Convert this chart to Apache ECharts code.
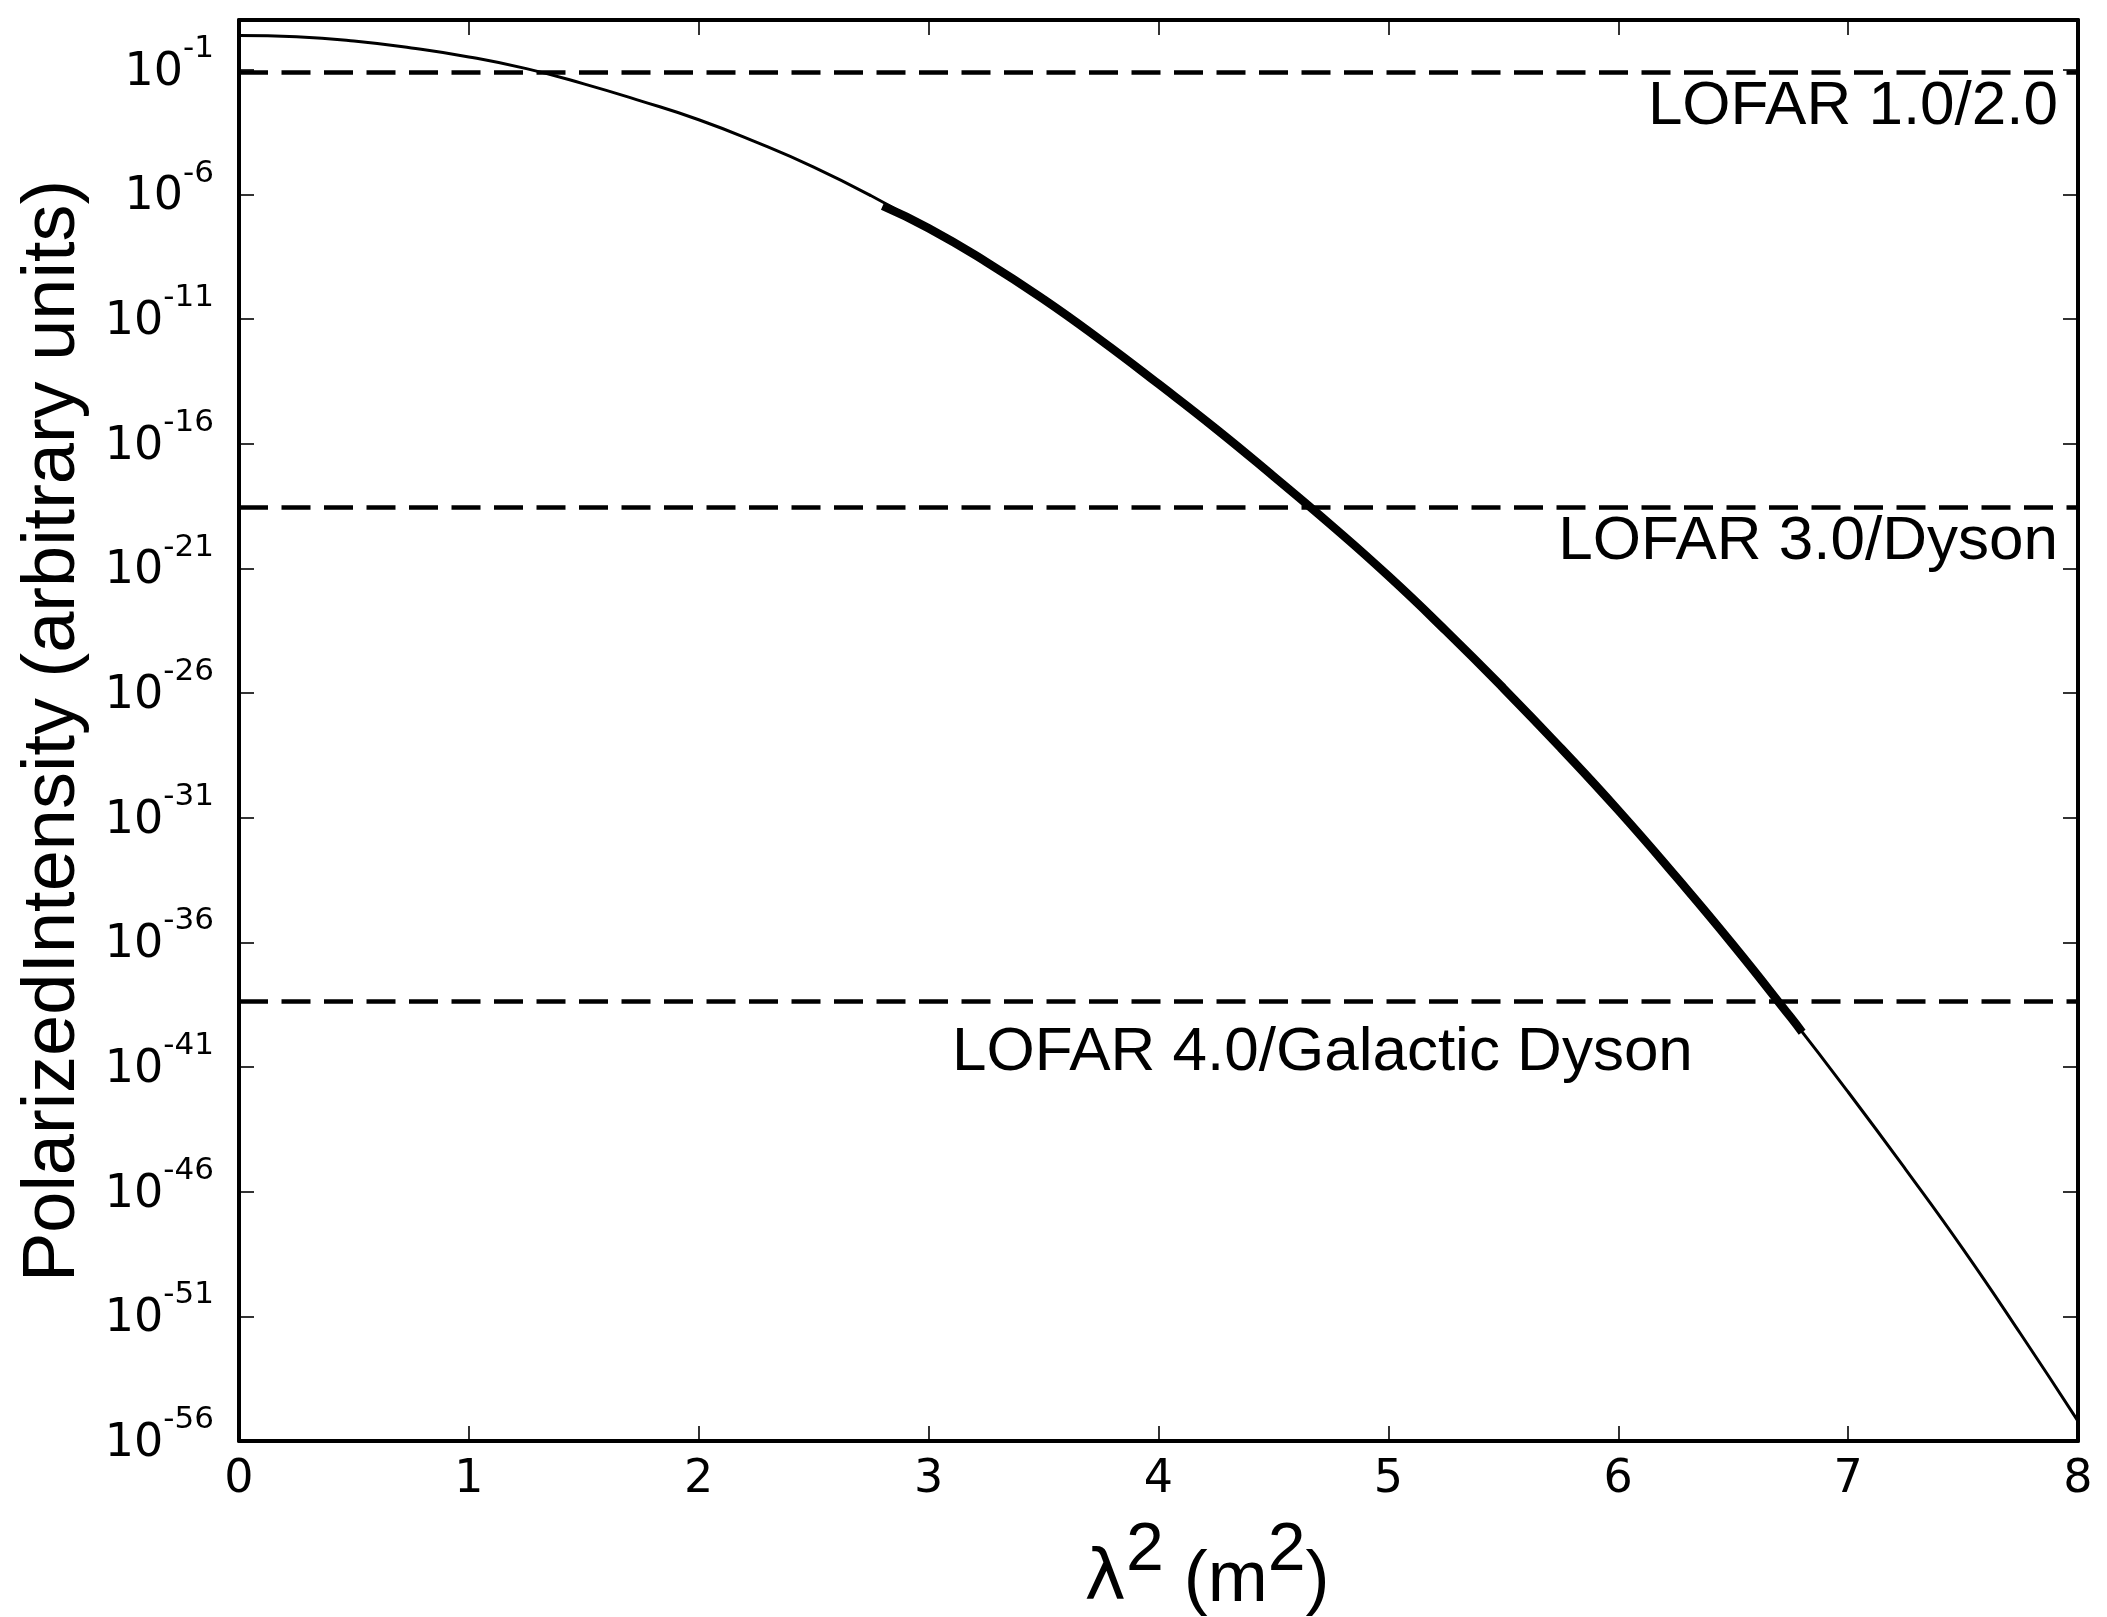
<!DOCTYPE html>
<html>
<head>
<meta charset="utf-8">
<script src="https://cdn.jsdelivr.net/npm/echarts@6/dist/echarts.min.js"></script>
<style>
html,body{margin:0;padding:0;background:#fff;}
#c{width:2107px;height:1617px;}
#err{position:absolute;left:300px;top:300px;font:30px sans-serif;color:red;white-space:pre-wrap;width:1500px;}
</style>
</head>
<body>
<div id="c"></div>
<div id="err"></div>
<script>
window.onerror = function (m, s, l, c, e) { document.getElementById('err').textContent += 'ERR: ' + m + ' @' + l + ':' + c + '\n'; };
// ---- data ----
const lambdaSq = [0, 0.25, 0.5, 0.75, 1, 1.25, 1.5, 1.75, 2, 2.25, 2.5, 2.75, 3,
                  3.25, 3.5, 3.75, 4, 4.25, 4.5, 4.75, 5, 5.25, 5.5, 5.75, 6,
                  6.25, 6.5, 6.75, 7, 7.25, 7.5, 7.75, 8];
const intensity = [2.4, 2.14, 1.45, 0.76, 0.331, 0.112, 0.0275, 5.6e-3, 1.0e-3, 1.26e-4, 1.26e-5, 8.9e-7, 4.47e-8,
                   2.0e-9, 6.3e-11, 1.41e-12, 2.51e-14, 3.98e-16, 5.0e-18, 5.6e-20, 5.0e-22, 3.16e-24, 1.58e-26, 6.3e-29, 2.0e-31,
                   4.47e-34, 7.9e-37, 1.0e-39, 1.0e-42, 7.9e-46, 5.0e-49, 2.0e-52, 6.3e-56];
const boldLambdaSq = [2.8, 3, 3.25, 3.5, 3.75, 4, 4.25, 4.5, 4.75, 5, 5.25, 5.5, 5.75, 6, 6.25, 6.5, 6.75, 6.8];
const boldIntensity = [3.5e-7, 4.47e-8, 2.0e-9, 6.3e-11, 1.41e-12, 2.51e-14, 3.98e-16, 5.0e-18, 5.6e-20, 5.0e-22,
                       3.16e-24, 1.58e-26, 6.3e-29, 2.0e-31, 4.47e-34, 7.9e-37, 1.0e-39, 2.5e-40];
const thresholdNames = ['LOFAR 1.0/2.0', 'LOFAR 3.0/Dyson', 'LOFAR 4.0/Galactic Dyson'];
const thresholds = [0.078, 2.8e-19, 4.3e-39];
const xTicks = [0, 1, 2, 3, 4, 5, 6, 7, 8];
const yTickExponents = [-1, -6, -11, -16, -21, -26, -31, -36, -41, -46, -51, -56];

// ---- chart ----
const chart = echarts.init(document.getElementById('c'), null, {renderer: 'canvas'});
const BLACK = '#000';
const TICK_FONT = 'DejaVu Sans';
const TEXT_FONT = 'Liberation Sans';
const yTickValues = yTickExponents.map(e => Number('1e' + e));

function frameAxis(extra) {
  return Object.assign({
    axisLine: {show: true, onZero: false, lineStyle: {color: BLACK, width: 4}},
    splitLine: {show: false},
    minorTick: {show: false}
  }, extra);
}
const tickStyle = {show: true, inside: true, length: 15, lineStyle: {color: BLACK, width: 1.6}};

const xBase = {type: 'value', min: 0, max: 8, interval: 1, axisTick: tickStyle};
const yBase = {type: 'log', logBase: 10, min: 1e-56, max: 1e1,
               axisTick: Object.assign({customValues: yTickValues}, tickStyle)};

const series = [
  {
    type: 'line', name: 'curve', z: 2,
    data: lambdaSq.map((x, i) => [x, intensity[i]]),
    smooth: 0.5, symbol: 'none',
    lineStyle: {color: BLACK, width: 3}
  },
  {
    type: 'line', name: 'bold', z: 3,
    data: boldLambdaSq.map((x, i) => [x, boldIntensity[i]]),
    smooth: 0.5, symbol: 'none',
    lineStyle: {color: BLACK, width: 8.5, cap: 'butt'}
  }
];
thresholds.forEach((v, i) => {
  series.push({
    type: 'line', name: thresholdNames[i], z: 2,
    data: [[xTicks[0], v], [xTicks[xTicks.length - 1], v]],
    symbol: 'none',
    lineStyle: {color: BLACK, width: 4.5, type: [29, 13.5], cap: 'butt'}
  });
});

// label placements (layout only)
const labelPos = [
  {x: 2058, y: 107, align: 'right'},
  {x: 2058, y: 542, align: 'right'},
  {x: 952, y: 1053, align: 'left'}
];

const graphics = thresholdNames.map((t, i) => ({
  type: 'text', silent: true, z: 10,
  style: {
    x: labelPos[i].x, y: labelPos[i].y, text: t,
    fontFamily: TEXT_FONT, fontSize: 62, fill: BLACK,
    align: labelPos[i].align, verticalAlign: 'middle'
  }
}));
graphics.push({
  type: 'text', silent: true, z: 10, rotation: Math.PI / 2, x: 54, y: 731,
  style: {
    x: 0, y: 0, text: 'PolarizedIntensity (arbitrary units)',
    fontFamily: TEXT_FONT, fontSize: 74, fill: BLACK,
    align: 'center', verticalAlign: 'middle'
  }
});
graphics.push({
  type: 'text', silent: true, z: 10,
  style: {
    x: 1207, y: 1581, text: '{l|λ}{s|2}{n| (m}{s|2}{n|)}',
    fill: BLACK, align: 'center', verticalAlign: 'middle',
    rich: {
      l: {fontFamily: TICK_FONT, fontSize: 70, lineHeight: 90, fill: BLACK},
      n: {fontFamily: TEXT_FONT, fontSize: 72, lineHeight: 90, fill: BLACK},
      s: {fontFamily: TEXT_FONT, fontSize: 68, lineHeight: 90, padding: [0, 0, 60, 0], fill: BLACK}
    }
  }
});

const option = {
  animation: false,
  backgroundColor: '#fff',
  grid: {left: 239, top: 20, width: 1839, height: 1421, containLabel: false},
  xAxis: [
    frameAxis(Object.assign({}, xBase, {
      position: 'bottom',
      axisLabel: {
        margin: 16, color: BLACK, fontFamily: TICK_FONT, fontSize: 46,
        formatter: v => (xTicks.indexOf(v) >= 0 ? String(v) : '')
      }
    })),
    frameAxis(Object.assign({}, xBase, {position: 'top', axisLabel: {show: false}}))
  ],
  yAxis: [
    frameAxis(Object.assign({}, yBase, {
      position: 'left',
      axisLabel: {
        margin: 25, color: BLACK,
        customValues: yTickValues,
        formatter: v => {
          const e = Math.round(Math.log10(v));
          return yTickExponents.indexOf(e) >= 0 ? '{b|10}{s|' + e + '}' : '';
        },
        rich: {
          b: {fontFamily: TICK_FONT, fontSize: 46, lineHeight: 46, padding: [6, 0, 0, 0], color: BLACK},
          s: {fontFamily: TICK_FONT, fontSize: 31, lineHeight: 46, padding: [0, 0, 42, 0], color: BLACK}
        }
      }
    })),
    frameAxis(Object.assign({}, yBase, {position: 'right', axisLabel: {show: false}}))
  ],
  graphic: graphics,
  series: series
};
try {
  chart.setOption(option);
} catch (e) {
  document.getElementById('err').textContent += 'EXC: ' + e.message;
}
</script>
</body>
</html>
